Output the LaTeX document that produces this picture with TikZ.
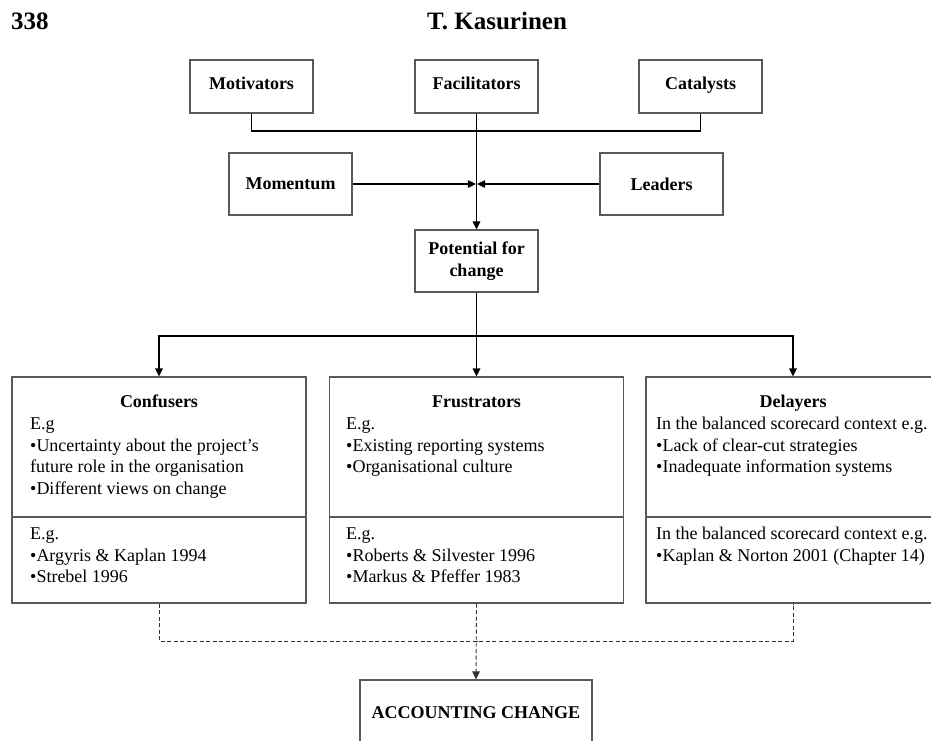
\documentclass[tikz,border=0pt]{standalone}
\usepackage{fontspec}
\setmainfont{Liberation Serif}
\usetikzlibrary{arrows.meta}
\begin{document}
\begin{tikzpicture}[x=1pt,y=-1pt,
  box/.style={draw=black!65, line width=1.1pt, rectangle, inner sep=0pt,
    font=\fontsize{18}{21.7}\selectfont\bfseries, align=center},
  topbox/.style={box, minimum width=123pt, minimum height=53pt,
    text height=11pt, text depth=5pt},
  conn/.style={draw=black, line width=1.1pt},
  arr/.style={conn, -{Triangle[length=8pt,width=7.5pt]}},
  dsh/.style={draw=black!80, line width=0.9pt, dash pattern=on 4pt off 2.5pt},
  txt/.style={anchor=base west, inner sep=0pt, font=\fontsize{18}{21.7}\selectfont},
  ttl/.style={anchor=base, inner sep=0pt, font=\fontsize{18}{21.7}\selectfont\bfseries},
  hdr/.style={inner sep=0pt, font=\fontsize{25}{30}\selectfont\bfseries},
]
\useasboundingbox (0,0) rectangle (931,740);

% header
\node[hdr, anchor=base west] (page) at (11,29.5) {338};
\node[hdr, anchor=base] (author) at (497,29.5) {T. Kasurinen};

% top boxes
\node[topbox] (mot) at (251.5,86.5) {Motivators};
\node[topbox] (fac) at (476.5,86.5) {Facilitators};
\node[topbox] (cat) at (700.5,86.5) {Catalysts};
\node[box, minimum width=123pt, minimum height=62pt] (mom) at (290.5,184) {Momentum};
\node[box, minimum width=123pt, minimum height=62pt] (lea) at (661.5,184) {Leaders};
\node[box, minimum width=123pt, minimum height=62pt] (pot) at (476.5,261) {Potential for\\change};

\coordinate (fork) at (476.5,131);
\coordinate (meet) at (476.5,184);
\coordinate (split) at (476.5,336);
\coordinate (dj) at (476.5,641);

\draw[conn] (mot.south) |- (fork) -| (cat.south);
\draw[arr] (fac.south) -- (pot.north);
\draw[arr] (mom.east) -- ([xshift=-0.6pt]meet);
\draw[arr] (lea.west) -- ([xshift=0.6pt]meet);

% three wide boxes
\node[box, minimum width=294pt, minimum height=226pt] (conf) at (159,490) {};
\node[box, minimum width=294pt, minimum height=226pt] (fru) at (476.5,490) {};
\node[box, minimum width=294pt, minimum height=226pt] (del) at (793,490) {};
\coordinate (div) at (0,517);
\draw[draw=black!65, line width=1.1pt] (conf.west |- div) -- (conf.east |- div);
\draw[draw=black!65, line width=1.1pt] (fru.west |- div) -- (fru.east |- div);
\draw[draw=black!65, line width=1.1pt] (del.west |- div) -- (del.east |- div);

\draw[conn] (pot.south) -- (split);
\draw[arr] (split) -| (conf.north);
\draw[arr] (split) -- (fru.north);
\draw[arr] (split) -| (del.north);

% Confusers text
\node[ttl] (c0) at (159,407.5) {Confusers};
\node[txt] (c1) at (30,429.5) {E.g};
\node[txt] (c2) at (30,451.5) {•Uncertainty about the project’s};
\node[txt] (c3) at (30,472.5) {future role in the organisation};
\node[txt] (c4) at (30,494) {•Different views on change};
\node[txt] (c5) at (30,539) {E.g.};
\node[txt] (c6) at (30,561) {•Argyris \& Kaplan 1994};
\node[txt] (c7) at (30,582.5) {•Strebel 1996};

% Frustrators text
\node[ttl] (f0) at (476.5,407.5) {Frustrators};
\node[txt] (f1) at (346,429.5) {E.g.};
\node[txt] (f2) at (346,451.5) {•Existing reporting systems};
\node[txt] (f3) at (346,472.5) {•Organisational culture};
\node[txt] (f5) at (346,539) {E.g.};
\node[txt] (f6) at (346,561) {•Roberts \& Silvester 1996};
\node[txt] (f7) at (346,582.5) {•Markus \& Pfeffer 1983};

% Delayers text
\node[ttl] (d0) at (793,407.5) {Delayers};
\node[txt] (d1) at (656,429.5) {In the balanced scorecard context e.g.};
\node[txt] (d2) at (656,451.5) {•Lack of clear-cut strategies};
\node[txt] (d3) at (656,472.5) {•Inadequate information systems};
\node[txt] (d5) at (656,539) {In the balanced scorecard context e.g.};
\node[txt] (d6) at (656,561) {•Kaplan \& Norton 2001 (Chapter 14)};

% bottom
\node[box, minimum width=232pt, minimum height=66pt] (acc) at (476,713) {ACCOUNTING CHANGE};
\draw[dsh] (conf.south) |- (dj) -| (del.south);
\draw[dsh, -{Triangle[length=8pt,width=7.5pt]}] (fru.south) -- (acc.north);
\end{tikzpicture}
\end{document}
